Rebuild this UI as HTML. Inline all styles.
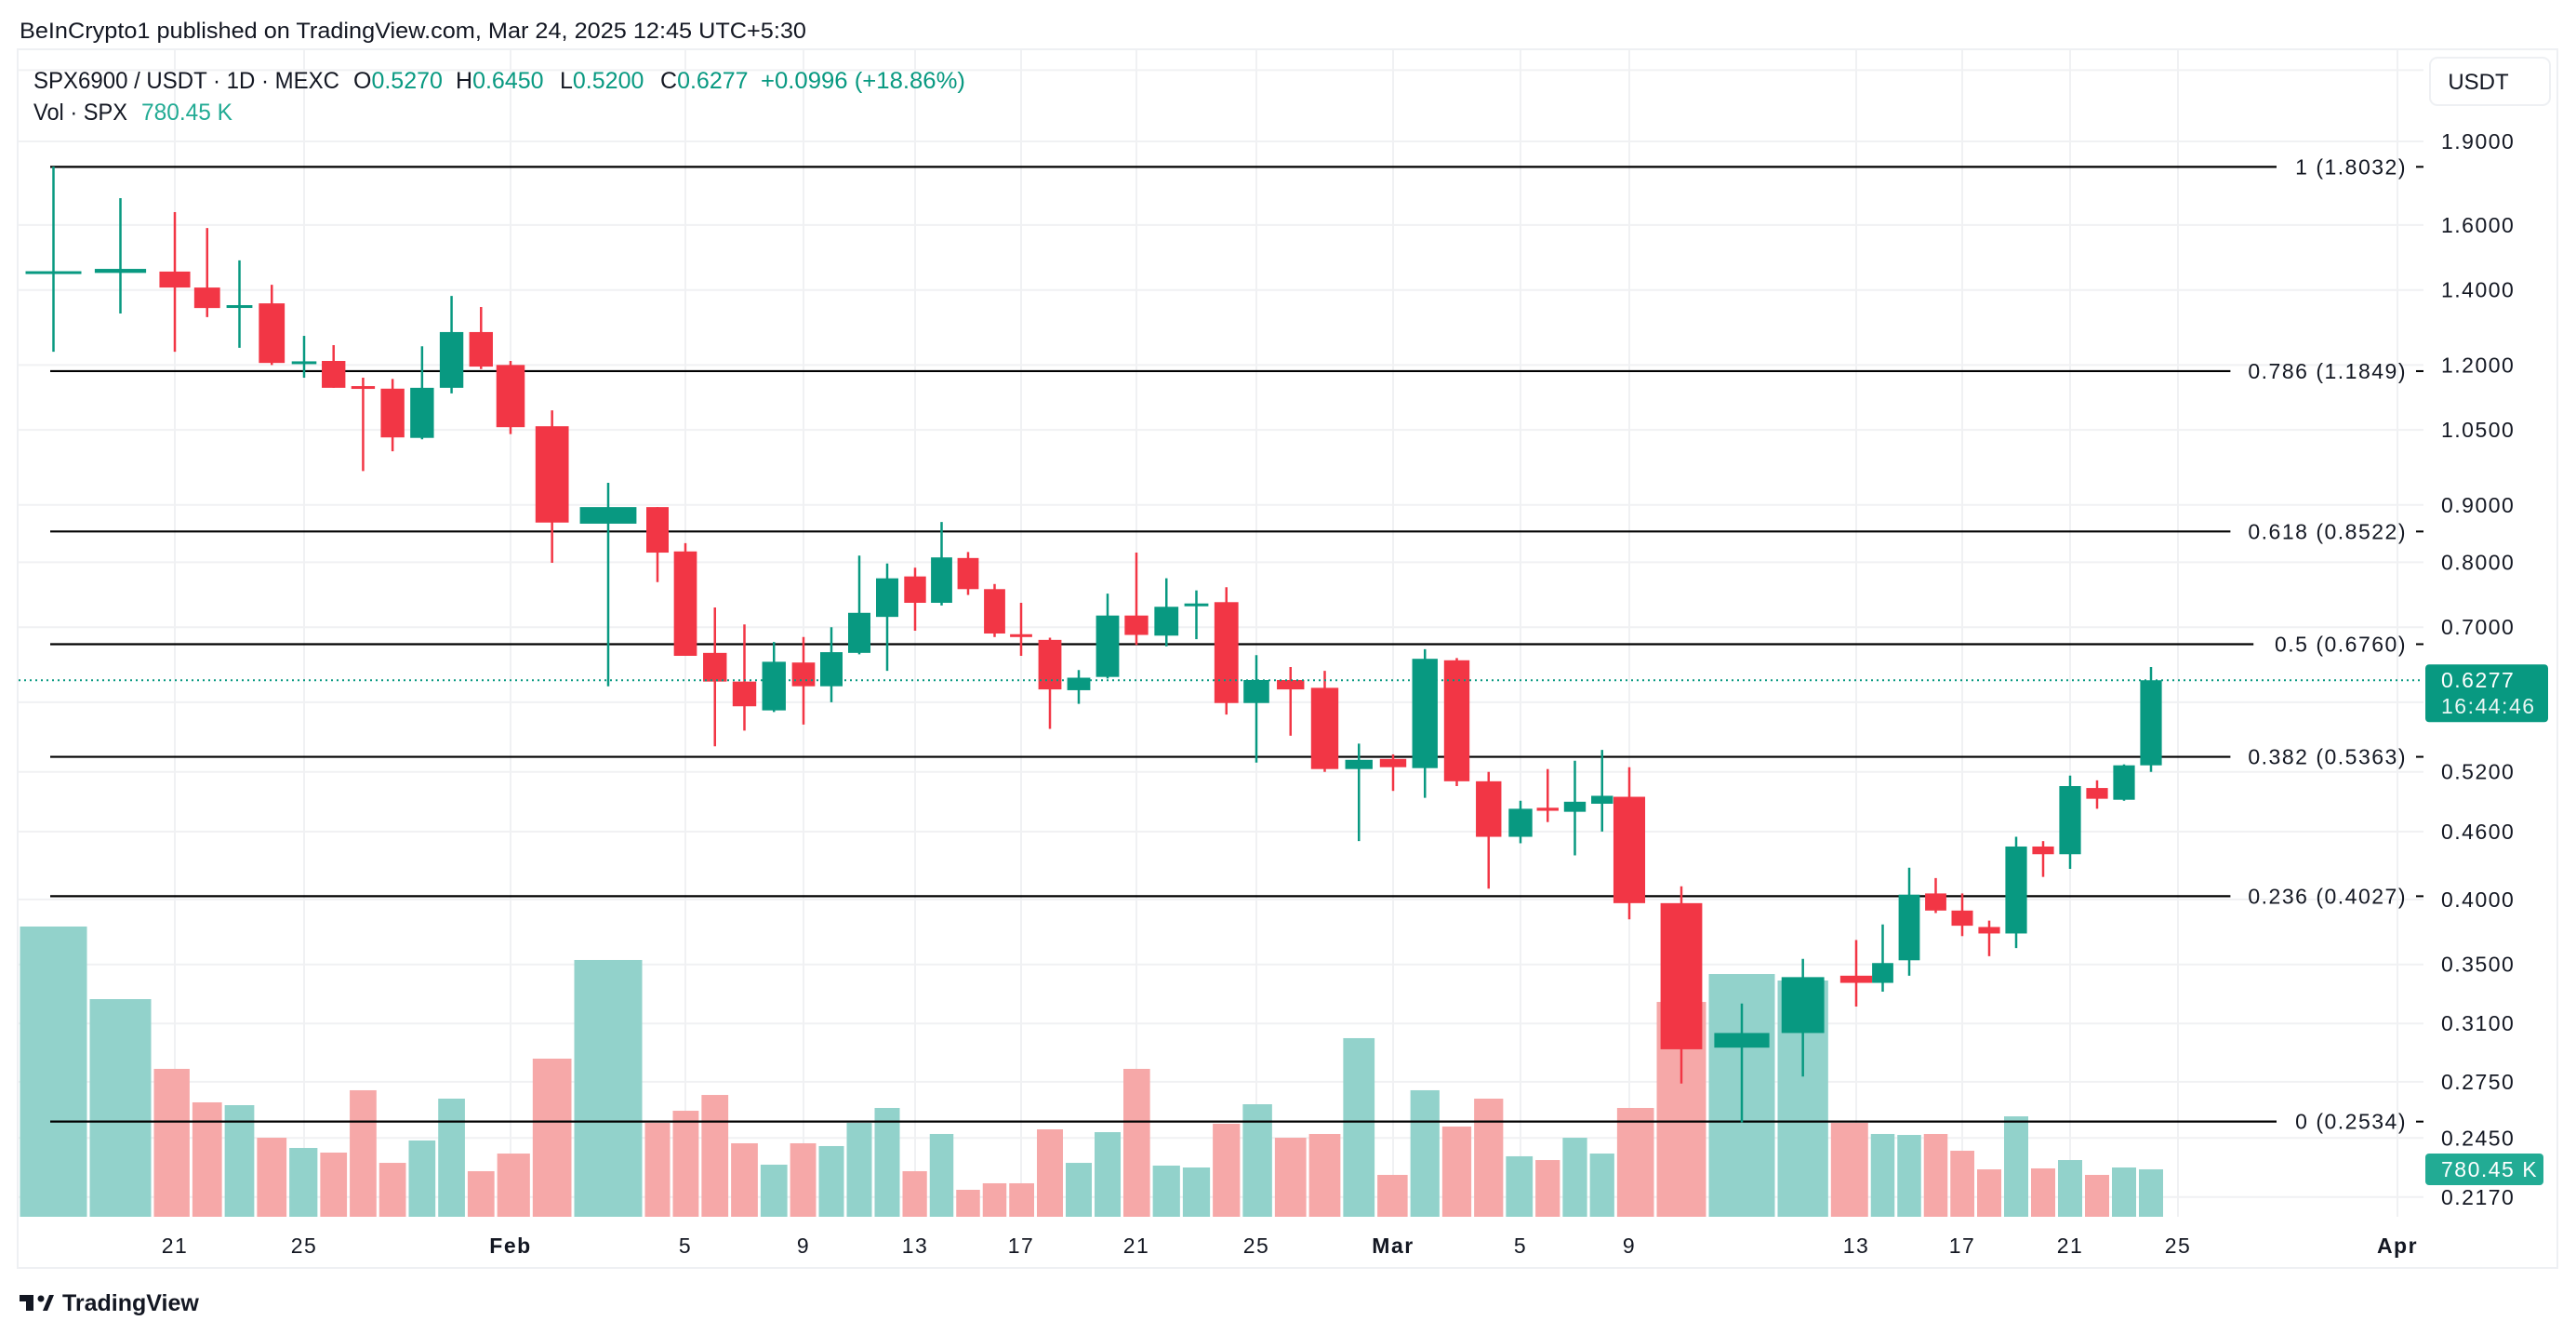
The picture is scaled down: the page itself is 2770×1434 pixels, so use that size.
<!DOCTYPE html>
<html><head><meta charset="utf-8"><title>SPX6900 / USDT chart</title>
<style>
html,body{margin:0;padding:0;background:#fff;}
svg{display:block;font-family:"Liberation Sans",Arial,sans-serif;}
</style></head>
<body>
<svg id="chart" width="2770" height="1434" viewBox="0 0 2770 1434" xmlns="http://www.w3.org/2000/svg">
  <rect x="0" y="0" width="2770" height="1434" fill="#ffffff"/>
  <text x="21" y="41" font-size="24" fill="#131722" textLength="846" lengthAdjust="spacingAndGlyphs">BeInCrypto1 published on TradingView.com, Mar 24, 2025 12:45 UTC+5:30</text>
  <rect x="19" y="53" width="2731" height="1310" fill="none" stroke="#eef0f3" stroke-width="2"/>
  <g id="grid"></g>
  <g id="volume"></g>
  <g id="fib"></g>
  <g id="candles"></g>
  <g id="overlay"></g>
  <g id="axes"></g>

  <g font-size="25">
    <text x="36" y="95" fill="#131722" textLength="329" lengthAdjust="spacingAndGlyphs">SPX6900 / USDT · 1D · MEXC</text>
    <text x="380" y="95" fill="#131722">O<tspan fill="#089981">0.5270</tspan></text>
    <text x="490" y="95" fill="#131722">H<tspan fill="#089981">0.6450</tspan></text>
    <text x="602" y="95" fill="#131722">L<tspan fill="#089981">0.5200</tspan></text>
    <text x="710" y="95" fill="#131722">C<tspan fill="#089981">0.6277</tspan></text>
    <text x="818" y="95" fill="#089981" textLength="220" lengthAdjust="spacingAndGlyphs">+0.0996 (+18.86%)</text>
    <text x="36" y="129" fill="#131722" textLength="101" lengthAdjust="spacingAndGlyphs">Vol · SPX</text>
    <text x="152" y="129" fill="#22ab94" textLength="98" lengthAdjust="spacingAndGlyphs">780.45 K</text>
  </g>

  <g>
    <rect x="2613" y="62" width="129" height="51" rx="8" fill="#fff" stroke="#eef0f3" stroke-width="2"/>
    <text x="2665" y="96" font-size="24" fill="#131722" text-anchor="middle">USDT</text>
  </g>

  <g>
    <rect x="21" y="1392" width="15" height="7" fill="#131722"/>
    <rect x="28" y="1392" width="8" height="17" fill="#131722"/>
    <circle cx="44" cy="1396" r="3.5" fill="#131722"/>
    <polygon points="46,1409 53,1392 58,1392 51,1409" fill="#131722"/>
    <text x="67" y="1409" font-size="25" font-weight="bold" fill="#131722">TradingView</text>
  </g>
</svg>
<script>
// ---- data ----
const days   = [19,20,21,22,23,24,25,26,27,28,29,30,31,32,33,34,35,36,37,38,39,40,41,42,43,44,45,46,47,48,49,50,51,52,53,54,55,56,57,58,59,60,61,62,63,64,65,66,67,68,69,70,71,72,73,74,75,76,77,78,79,80,81,82,83];
const opens  = [1.448,1.450,1.454,1.407,1.350,1.362,1.205,1.210,1.149,1.143,1.033,1.145,1.284,1.200,1.058,0.866,0.896,0.818,0.664,0.626,0.590,0.651,0.620,0.664,0.715,0.777,0.736,0.807,0.757,0.690,0.682,0.615,0.632,0.717,0.688,0.731,0.737,0.599,0.628,0.618,0.523,0.534,0.524,0.654,0.510,0.455,0.483,0.479,0.487,0.494,0.397,0.295,0.304,0.342,0.337,0.353,0.405,0.391,0.378,0.373,0.446,0.439,0.503,0.491,0.527];
const highs  = [1.804,1.691,1.643,1.590,1.488,1.415,1.274,1.250,1.169,1.166,1.247,1.383,1.352,1.210,1.093,0.942,0.896,0.832,0.729,0.704,0.679,0.686,0.700,0.811,0.798,0.791,0.869,0.817,0.765,0.736,0.685,0.641,0.750,0.816,0.774,0.755,0.760,0.661,0.645,0.640,0.551,0.539,0.669,0.657,0.520,0.490,0.523,0.532,0.544,0.525,0.411,0.323,0.354,0.368,0.380,0.427,0.418,0.405,0.383,0.455,0.451,0.516,0.511,0.528,0.645];
const lows   = [1.233,1.334,1.233,1.324,1.243,1.200,1.169,1.145,0.965,1.005,1.030,1.132,1.190,1.041,0.799,0.620,0.768,0.660,0.548,0.566,0.588,0.573,0.600,0.662,0.640,0.695,0.732,0.748,0.686,0.660,0.568,0.598,0.630,0.675,0.673,0.683,0.585,0.530,0.560,0.520,0.451,0.500,0.493,0.505,0.409,0.449,0.469,0.438,0.460,0.384,0.274,0.253,0.278,0.321,0.331,0.342,0.389,0.371,0.356,0.362,0.419,0.426,0.482,0.490,0.520];
const closes = [1.455,1.462,1.407,1.349,1.357,1.205,1.209,1.145,1.143,1.034,1.145,1.284,1.196,1.056,0.868,0.896,0.816,0.660,0.626,0.595,0.652,0.620,0.665,0.721,0.774,0.736,0.808,0.757,0.691,0.686,0.616,0.631,0.717,0.689,0.730,0.735,0.599,0.628,0.616,0.523,0.533,0.525,0.656,0.510,0.455,0.482,0.480,0.489,0.495,0.397,0.294,0.304,0.341,0.337,0.351,0.404,0.391,0.379,0.373,0.446,0.439,0.505,0.492,0.527,0.6277];
const volumesK = [4774,3580,2433,1882,1836,1300,1132,1056,2081,887,1255,1943,750,1040,2601,4223,1545,1744,2004,1209,857,1209,1163,1545,1790,750,1362,444,551,551,1438,887,1392,2433,842,811,1530,1851,1300,1362,2938,689,2081,1484,1943,995,933,1300,1040,1790,3534,3993,3886,1545,1362,1346,1362,1086,780,1652,796,933,689,811,780.45];
const volUp = [1,1,0,0,1,0,1,0,0,0,1,1,0,0,0,1,0,0,0,0,1,0,1,1,1,0,1,0,0,0,0,1,1,0,1,1,0,1,0,0,1,0,1,0,0,1,0,1,1,0,0,1,1,0,1,1,0,0,0,1,0,1,0,1,1];
const priceTicks = [1.9,1.6,1.4,1.2,1.05,0.9,0.8,0.7,0.52,0.46,0.40,0.35,0.31,0.275,0.245,0.217];
const priceTickLabels = ["1.9000","1.6000","1.4000","1.2000","1.0500","0.9000","0.8000","0.7000","0.5200","0.4600","0.4000","0.3500","0.3100","0.2750","0.2450","0.2170"];
const extraGridPrices = [2.2,0.6];
const timeTickDays = [21,25,32,36,40,44,48,52,56,60,64,68,72,76,80,84,91];
const timeTickLabels = ["21","25","Feb","5","9","13","17","21","25","Mar","5","9","13","17","21","25","Apr"];
const fibRatios = ["1","0.786","0.618","0.5","0.382","0.236","0"];
const fibPrices = [1.8032,1.1849,0.8522,0.6760,0.5363,0.4027,0.2534];
const lastPrice = 0.6277;
const lastVolume = 780.45;

// ---- scales ----
const PLOT_R = 2606, PLOT_L = 20, PLOT_B = 1308;
function yP(p){ return 152 + (Math.log(1.9) - Math.log(p)) * 523; }
const VOL_PX_PER_K = 1/15.3;
function yV(v){ return PLOT_B - v * VOL_PX_PER_K; }
// piecewise time scale (day -> px), breakpoints of the time axis
const tScaleDays = [18.5,19.5,20.5,21,25,32,33.5,34.5,36,40,44,48,52,56,60,64,68,69.5,70.5,72,76,80,84,91];
const tScalePx   = [20,95,164,188,327,549,616,692,737,864,984,1098,1222,1351,1498,1635,1752,1836,1910,1996,2110,2226,2342,2578];
function xT(d){
  const D=tScaleDays,P=tScalePx;
  let i=0; while(i<D.length-2 && d>D[i+1]) i++;
  return P[i] + (d-D[i])*(P[i+1]-P[i])/(D[i+1]-D[i]);
}
const NS='http://www.w3.org/2000/svg';
function mk(tag, parent, attrs){ const e=document.createElementNS(NS,tag); for(const k in attrs) e.setAttribute(k,attrs[k]); parent.appendChild(e); return e; }
const UP='#089981', DN='#f23645';

// grid
const grid=document.getElementById('grid');
priceTicks.concat(extraGridPrices).forEach(p=>{
  const l=mk('line',grid,{x1:PLOT_L,x2:PLOT_R,y1:yP(p),y2:yP(p),stroke:'#f0f1f3','stroke-width':2});
  
  
});
timeTickDays.forEach(d=>{
  const l=mk('line',grid,{x1:xT(d),x2:xT(d),y1:54,y2:PLOT_B,stroke:'#f0f1f3','stroke-width':2});
  
  
});

// volume
const vg=document.getElementById('volume');
days.forEach((d,i)=>{
  const x0=xT(d-0.5)+1.5, x1=xT(d+0.5)-1.5;
  const r=mk('rect',vg,{x:x0,width:Math.max(1,x1-x0),y:yV(volumesK[i]),height:PLOT_B-yV(volumesK[i]),fill:volUp[i]?'#92d2cb':'#f6a8a8'});
  
  
});

// fib levels
const fg=document.getElementById('fib');
fibPrices.forEach((p,i)=>{
  const y=yP(p);
  const label=fibRatios[i]+' ('+p.toFixed(4)+')';
  const t=mk('text',fg,{x:2588,y:y+8,'font-size':23,fill:'#131722','text-anchor':'end','letter-spacing':'1.5'});
  t.textContent=label;
  
  
  const approxW=label.length*12.4+4;
  const l=mk('line',fg,{x1:54,x2:2588-approxW-12,y1:y,y2:y,stroke:'#000','stroke-width':2.2});
  
  
  const dsh=mk('line',fg,{x1:2598,x2:2606,y1:y,y2:y,stroke:'#000','stroke-width':2});
  
  
});

// candles
const cg=document.getElementById('candles');
days.forEach((d,i)=>{
  const o=opens[i],c=closes[i],h=highs[i],l=lows[i];
  const col=c>=o?UP:DN;
  const x=xT(d), w=(xT(d+0.5)-xT(d-0.5))*0.8;
  const wk=mk('line',cg,{x1:x,x2:x,y1:yP(h),y2:yP(l),stroke:col,'stroke-width':2.5});
  
  
  const top=yP(Math.max(o,c)), bot=yP(Math.min(o,c));
  const b=mk('rect',cg,{x:x-w/2,width:w,y:top,height:Math.max(3,bot-top),fill:col});
  
  
});

// overlay: last price line and tags
const og=document.getElementById('overlay');
const ly=yP(lastPrice);
const pl=mk('line',og,{x1:PLOT_L,x2:PLOT_R,y1:ly,y2:ly,stroke:UP,'stroke-width':2,'stroke-dasharray':'2 4'});


const ax=document.getElementById('axes');
priceTicks.forEach((p,i)=>{
  const t=mk('text',ax,{x:2625,y:yP(p)+8,'font-size':23,fill:'#131722','letter-spacing':'1.5'});
  t.textContent=priceTickLabels[i];
  
  
});
timeTickDays.forEach((d,i)=>{
  const bold=isNaN(+timeTickLabels[i]);
  const t=mk('text',ax,{x:xT(d),y:1347,'font-size':23,fill:'#131722','text-anchor':'middle','font-weight':bold?'bold':'normal','letter-spacing':'1.5'});
  t.textContent=timeTickLabels[i];
  
  
});
const tag=mk('rect',ax,{x:2608,y:ly-17,width:132,height:62,rx:4,fill:UP});


const t1=mk('text',ax,{x:2625,y:ly+8,'font-size':23,fill:'#fff','letter-spacing':'1.5'});
t1.textContent=lastPrice.toFixed(4);


const t2=mk('text',ax,{x:2625,y:ly+36,'font-size':23,fill:'#e8f6f3','letter-spacing':'1.5'});
t2.textContent='16:44:46';


const vy=yV(lastVolume);
const vtag=mk('rect',ax,{x:2608,y:vy-17,width:127,height:34,rx:4,fill:'#22ab94'});


const vt=mk('text',ax,{x:2625,y:vy+8,'font-size':23,fill:'#fff','letter-spacing':'1.5'});
vt.textContent=lastVolume.toFixed(2)+' K';


</script>
</body></html>
